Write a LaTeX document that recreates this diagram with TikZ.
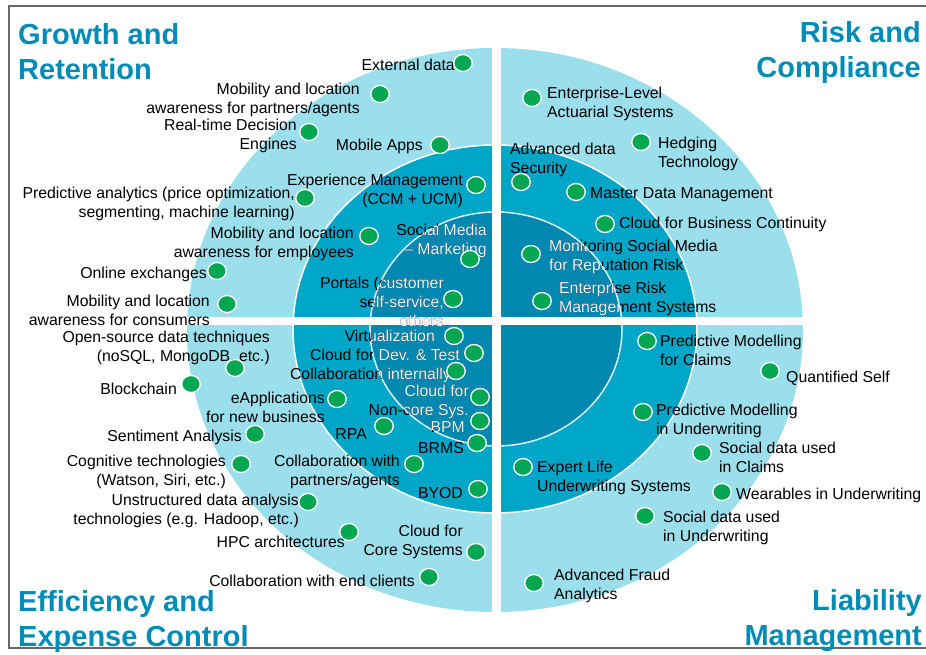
\documentclass[tikz,border=0pt]{standalone}
\usepackage{fontspec}
\setmainfont{Liberation Sans}
\usetikzlibrary{positioning,shapes.geometric}
\definecolor{ringlight}{RGB}{155,223,236}
\definecolor{ringmid}{RGB}{0,166,200}
\definecolor{ringinner}{RGB}{0,136,176}
\definecolor{titleblue}{RGB}{0,140,182}
\definecolor{dotgreen}{RGB}{0,166,81}
\definecolor{framegrey}{RGB}{105,105,105}
\colorlet{lblcol}{black}
\tikzstyle{dot}=[ellipse, fill=dotgreen, draw=white, line width=1.3pt, minimum width=18.5pt, minimum height=17pt, inner sep=0pt]
\tikzstyle{lbl}=[inner sep=0pt, text=lblcol, font=\fontsize{15.8}{19}\selectfont]
\tikzstyle{lblL}=[lbl, anchor=east, align=right]
\tikzstyle{lblR}=[lbl, anchor=west, align=left]
\tikzstyle{quadtitle}=[inner sep=0pt, text=titleblue, font=\bfseries\fontsize{29}{35}\selectfont]

% all item texts, drawn once in black and once in white inside the inner ring
\newcommand\quadlabels{%
% Growth and Retention
\node[lblL] (ext-l) at (455,65) {External data};
\node[lblL] (mobpa-l) at (360,100) {Mobility and location\\awareness for partners/agents};
\node[lblL] (rtde-l) at (297,136) {Real-time Decision\\Engines};
\node[lblL] (mapp-l) at (423,146) {Mobile Apps};
\node[lblL] (expm-l) at (463,191) {Experience Management\\(CCM + UCM)};
\node[lblL] (pred-l) at (295,204) {Predictive analytics (price optimization,\\segmenting, machine learning)};
\node[lblL] (mobem-l) at (354,244) {Mobility and location\\awareness for employees};
\node[lblL] (socm-l) at (487,241) {Social Media\\– Marketing};
\node[lblL] (onl-l) at (207,274) {Online exchanges};
\node[lblL] (port-l) at (444,302) {Portals (customer\\self-service,\\others};
\node[lblL] (mobco-l) at (210,310) {Mobility and location\\awareness for consumers};
% Efficiency and Expense Control
\node[lblL] (open-l) at (270,348) {Open-source data techniques\\(noSQL, MongoDB, etc.)};
\node[lblL] (blk-l) at (177,389) {Blockchain};
\node[lblL] (eapp-l) at (325,407) {eApplications\\for new business};
\node[lblL] (sent-l) at (242,437) {Sentiment Analysis};
\node[lblL] (cogn-l) at (226,472) {Cognitive technologies\\(Watson, Siri, etc.)};
\node[lblL] (unst-l) at (299,511) {Unstructured data analysis\\technologies (e.g. Hadoop, etc.)};
\node[lblL] (hpc-l) at (345,542) {HPC architectures};
\node[lblL] (virt-l) at (435,336) {Virtualization};
\node[lblL] (cdev-l) at (460,355) {Cloud for Dev. \& Test};
\node[lblL] (colin-l) at (451,375) {Collaboration internally};
\node[lblL] (cnon-l) at (469,402) {Cloud for\\Non-core Sys.};
\node[lblL] (rpa-l) at (367,434) {RPA};
\node[lblL] (bpm-l) at (465,427) {BPM};
\node[lblL] (brms-l) at (464,448) {BRMS};
\node[lblL] (colpa-l) at (400,472) {Collaboration with\\partners/agents};
\node[lblL] (byod-l) at (463,493) {BYOD};
\node[lblL] (ccore-l) at (463,542) {Cloud for\\Core Systems};
\node[lblL] (colcl-l) at (415,581) {Collaboration with end clients};
% Risk and Compliance
\node[lblR] (actu-l) at (547,104) {Enterprise-Level\\Actuarial Systems};
\node[lblR] (hedg-l) at (658,154) {Hedging\\Technology};
\node[lblR] (adsec-l) at (510,160) {Advanced data\\Security};
\node[lblR] (mdm-l) at (590,195) {Master Data Management};
\node[lblR] (cbc-l) at (619,224) {Cloud for Business Continuity};
\node[lblR] (msm-l) at (549,257) {Monitoring Social Media\\for Reputation Risk};
\node[lblR] (erm-l) at (559,299) {Enterprise Risk\\Management Systems};
% Liability Management
\node[lblR] (pmc-l) at (660,350) {Predictive Modelling\\for Claims};
\node[lblR] (qs-l) at (786,378) {Quantified Self};
\node[lblR] (pmu-l) at (656,421) {Predictive Modelling\\in Underwriting};
\node[lblR] (sdc-l) at (719,457) {Social data used\\in Claims};
\node[lblR] (expl-l) at (537,478) {Expert Life\\Underwriting Systems};
\node[lblR] (wear-l) at (736,495) {Wearables in Underwriting};
\node[lblR] (sdu-l) at (663,528) {Social data used\\in Underwriting};
\node[lblR] (afr-l) at (554,586) {Advanced Fraud\\Analytics};
}

\begin{document}
\begin{tikzpicture}[x=1pt, y=-1pt]
\useasboundingbox (0,0) rectangle (926,654);

% frame
\draw[framegrey, line width=2.2pt] (940,6) -- (9,6) -- (9,648) -- (940,648);

% rings
\fill[ringlight] (495,330) ellipse [x radius=308pt, y radius=282pt];
\filldraw[fill=ringmid, draw=white, line width=1.5pt] (495,329) ellipse [x radius=202pt, y radius=184pt];
\filldraw[fill=ringinner, draw=white!60!ringlight, line width=1.5pt] (496,329) ellipse [x radius=126pt, y radius=117pt];

% quadrant gaps
\fill[white] (492,40) rectangle (501,625);
\fill[white] (180,317) rectangle (812,325);

% texts
\quadlabels
\begin{scope}
  \clip (496,329) ellipse [x radius=126pt, y radius=117pt];
  \colorlet{lblcol}{white}
  \quadlabels
\end{scope}

% Growth and Retention
\node[dot] (ext) at (463,63) {};
\node[dot] (mobpa) at (380,94) {};
\node[dot] (rtde) at (309,132) {};
\node[dot] (mapp) at (440,145) {};
\node[dot] (expm) at (476,185) {};
\node[dot] (pred) at (305,198) {};
\node[dot] (mobem) at (369,236) {};
\node[dot] (socm) at (470,259) {};
\node[dot] (onl) at (217,271) {};
\node[dot] (port) at (453,299) {};
\node[dot] (mobco) at (227,304) {};

% Efficiency and Expense Control
\node[dot] (open) at (235,368) {};
\node[dot] (blk) at (191,384) {};
\node[dot] (eapp) at (337,399) {};
\node[dot] (sent) at (255,434) {};
\node[dot] (cogn) at (241,464) {};
\node[dot] (unst) at (308,502) {};
\node[dot] (hpc) at (349,532) {};
\node[dot] (virt) at (454,336) {};
\node[dot] (cdev) at (474,353) {};
\node[dot] (colin) at (456,371) {};
\node[dot] (cnon) at (480,397) {};
\node[dot] (rpa) at (384,426) {};
\node[dot] (bpm) at (480,421) {};
\node[dot] (brms) at (477,443) {};
\node[dot] (colpa) at (414,464) {};
\node[dot] (byod) at (478,489) {};
\node[dot] (ccore) at (476,552) {};
\node[dot] (colcl) at (429,577) {};

% Risk and Compliance
\node[dot] (actu) at (532,98) {};
\node[dot] (hedg) at (641,142) {};
\node[dot] (adsec) at (521,182) {};
\node[dot] (mdm) at (576,192) {};
\node[dot] (cbc) at (605,224) {};
\node[dot] (msm) at (531,254) {};
\node[dot] (erm) at (542,301) {};

% Liability Management
\node[dot] (pmc) at (647,341) {};
\node[dot] (qs) at (770,371) {};
\node[dot] (pmu) at (643,412) {};
\node[dot] (sdc) at (702,453) {};
\node[dot] (expl) at (523,467) {};
\node[dot] (wear) at (722,492) {};
\node[dot] (sdu) at (645,516) {};
\node[dot] (afr) at (534,583) {};

% quadrant titles
\node[quadtitle, anchor=west, align=left] (growth) at (18,52) {Growth and\\Retention};
\node[quadtitle, anchor=east, align=right] (risk) at (921,52) {Risk and\\Compliance};
\node[quadtitle, anchor=west, align=left] (effic) at (18,621) {Efficiency and\\Expense Control};
\node[quadtitle, anchor=east, align=right] (liab) at (922,621) {Liability\\Management};
\end{tikzpicture}
\end{document}
